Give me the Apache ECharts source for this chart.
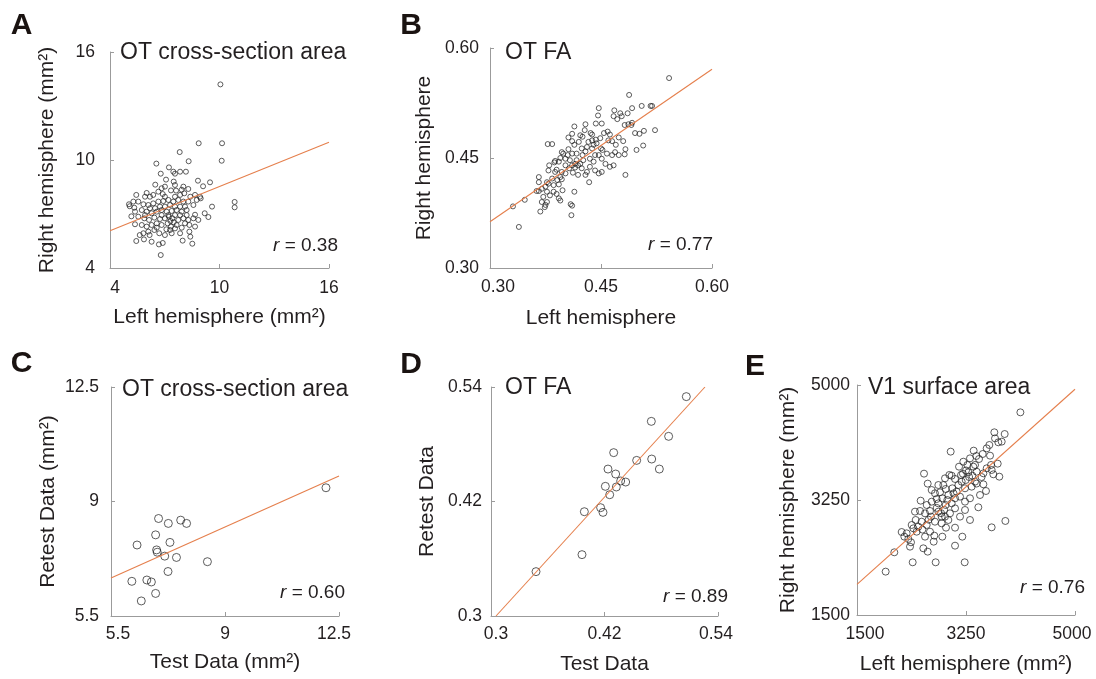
<!DOCTYPE html>
<html><head><meta charset="utf-8">
<script src="https://cdn.jsdelivr.net/npm/echarts@6.0.0/dist/echarts.min.js"></script>
<style>html,body{margin:0;padding:0;background:#fff}#c{width:1096px;height:679px}</style>
</head><body><div id="c"></div>
<script>
// ---------- DATA ----------
// A: OT cross-section area, left vs right hemisphere (mm²)
const otAreaLR = [
[10.05,14.20],[8.86,10.93],[10.14,10.93],[10.12,9.96],[7.82,10.44],[8.31,9.93],[6.54,9.80],[7.23,9.59],[7.47,9.35],[7.56,9.24],[6.78,9.24],[7.84,9.35],[8.16,9.35],[7.07,8.91],[7.49,8.80],[8.82,8.85],[9.48,8.76],[6.48,8.63],[9.10,8.54],[6.01,8.17],[5.44,8.06],[6.65,8.24],[6.89,8.11],[7.01,7.96],[7.34,8.31],[7.62,8.30],[7.93,8.35],[8.29,8.39],[8.07,8.15],[8.97,7.87],[8.75,7.78],[10.83,7.67],[10.83,7.37],[9.59,7.41],[9.39,6.83],[9.19,7.04],[8.66,6.96],[5.04,7.54],[5.08,7.43],[5.33,7.35],[5.17,6.87],[5.37,6.43],[5.63,5.83],[5.44,5.50],[5.86,5.59],[6.17,5.83],[6.28,5.46],[6.68,5.31],[6.89,5.39],[6.78,4.72],[7.98,5.52],[8.51,5.35],[8.35,6.02],[8.35,6.39],[7.56,6.20],[7.09,6.15],
[5.55,7.69],[5.83,7.54],[6.10,7.50],[6.37,7.59],[6.65,7.69],[6.92,7.72],[7.20,7.78],[7.47,7.69],[7.74,7.78],[8.02,7.69],[8.29,7.69],[8.57,7.50],[5.74,7.22],[6.01,7.13],[6.28,7.04],[6.56,7.13],[6.83,7.22],[7.11,7.13],[7.38,7.17],[7.65,7.22],[7.93,7.13],[8.20,7.22],[5.55,6.85],[5.88,6.76],[6.14,6.67],[6.43,6.80],[6.74,6.72],[7.01,6.76],[7.23,6.85],[7.42,6.76],[7.31,6.61],[7.16,6.48],[7.49,6.54],[7.74,6.67],[8.02,6.76],[8.29,6.67],[8.57,6.76],[8.84,6.67],[5.74,6.39],[6.01,6.30],[6.28,6.39],[6.56,6.24],[6.83,6.39],[7.34,6.30],[7.93,6.24],[8.11,6.48],[6.10,6.02],[6.43,6.11],[6.70,5.93],[7.01,5.83],[7.38,5.93],[7.84,5.93],[8.40,5.74],[5.92,7.96],[6.19,7.96],[6.37,8.06],[7.56,7.96],[7.84,8.06],[8.40,7.96],[8.66,8.06],[8.93,7.96],[7.56,8.61],[8.02,8.52],[7.01,8.52],[6.83,8.43],[5.37,7.13],[5.28,7.69],[7.29,7.50],[7.01,7.41],[7.56,7.41],[7.84,7.41],[8.11,7.41],[6.47,7.32],[6.74,7.41],[6.19,7.32],[5.92,6.94],[7.20,6.94],[7.56,6.94],[7.84,6.94],[8.20,6.94],[6.83,6.94],[6.56,6.48],[7.65,6.39],[8.66,6.30],[7.29,6.11],[5.83,5.93]
];
// B: OT FA, left vs right hemisphere
const otFaLR = [
[0.542,0.559],[0.488,0.536],[0.505,0.521],[0.517,0.521],[0.519,0.521],[0.492,0.518],[0.468,0.515],[0.447,0.518],[0.446,0.508],[0.476,0.511],[0.486,0.511],[0.478,0.507],[0.472,0.503],[0.467,0.507],[0.482,0.495],[0.487,0.496],[0.492,0.498],[0.491,0.495],[0.508,0.487],[0.523,0.488],[0.496,0.484],[0.502,0.483],[0.507,0.467],[0.498,0.461],[0.483,0.462],[0.482,0.455],[0.483,0.427],[0.470,0.468],[0.465,0.473],[0.474,0.478],[0.480,0.473],[0.459,0.486],[0.462,0.482],[0.454,0.484],[0.451,0.497],[0.443,0.497],[0.436,0.484],[0.438,0.482],[0.429,0.496],[0.414,0.493],[0.428,0.488],[0.422,0.481],[0.425,0.479],[0.411,0.483],[0.406,0.478],[0.411,0.473],[0.414,0.468],[0.406,0.462],[0.411,0.456],[0.417,0.456],[0.424,0.463],[0.431,0.465],[0.429,0.459],[0.438,0.463],[0.440,0.468],[0.443,0.475],[0.444,0.470],[0.450,0.463],[0.452,0.461],[0.447,0.454],[0.442,0.454],[0.435,0.449],[0.440,0.445],[0.451,0.449],[0.458,0.456],[0.465,0.454],[0.469,0.458],[0.474,0.454],[0.467,0.440],[0.462,0.438],[0.456,0.442],[0.451,0.431],[0.447,0.429],[0.442,0.433],[0.435,0.438],[0.431,0.431],[0.434,0.417],[0.429,0.427],[0.424,0.436],[0.419,0.440],[0.415,0.442],[0.408,0.447],[0.405,0.454],[0.402,0.449],[0.399,0.456],[0.395,0.450],[0.393,0.445],[0.388,0.446],[0.387,0.444],[0.380,0.440],[0.379,0.433],[0.388,0.431],[0.390,0.434],[0.397,0.431],[0.395,0.424],[0.384,0.422],[0.391,0.420],[0.397,0.421],[0.402,0.429],[0.407,0.436],[0.412,0.430],[0.415,0.437],[0.419,0.427],[0.414,0.404],[0.409,0.387],[0.411,0.385],[0.410,0.372],[0.398,0.406],[0.393,0.414],[0.386,0.413],[0.379,0.415],[0.377,0.417],[0.378,0.469],[0.384,0.469],[0.366,0.424],[0.366,0.417],[0.363,0.405],[0.366,0.405],[0.370,0.408],[0.375,0.411],[0.377,0.404],[0.372,0.397],[0.370,0.390],[0.377,0.390],[0.375,0.386],[0.374,0.383],[0.368,0.377],[0.381,0.399],[0.386,0.404],[0.393,0.395],[0.395,0.392],[0.390,0.401],[0.347,0.393],[0.331,0.384],[0.339,0.356],[0.402,0.440],[0.411,0.440],[0.425,0.454],[0.426,0.447],[0.417,0.447],[0.422,0.442],[0.433,0.472],[0.438,0.474],[0.449,0.477],[0.460,0.474],[0.420,0.472],[0.397,0.458]
];
// C: OT cross-section area, test vs retest (mm²)
const otAreaTR = [
[12.10,9.42],[6.96,8.48],[7.26,8.33],[7.64,8.43],[7.82,8.33],[6.87,7.98],[6.30,7.67],[7.31,7.75],[6.90,7.52],[6.92,7.45],[7.15,7.33],[7.51,7.29],[8.46,7.16],[7.25,6.86],[6.14,6.56],[6.60,6.60],[6.74,6.54],[6.87,6.19],[6.43,5.96]
];
// D: OT FA, test vs retest
const otFaTR = [
[0.5065,0.5299],[0.4695,0.5040],[0.4878,0.4883],[0.4297,0.4712],[0.4540,0.4631],[0.4699,0.4645],[0.4780,0.4540],[0.4237,0.4540],[0.4318,0.4488],[0.4371,0.4415],[0.4424,0.4404],[0.4209,0.4359],[0.4325,0.4352],[0.4255,0.4271],[0.4159,0.4135],[0.4184,0.4086],[0.3987,0.4093],[0.3962,0.3643],[0.3476,0.3465]
];
// E: V1 surface area, left vs right hemisphere (mm²)
const v1AreaLR = [
[4123,4584],[3705,4280],[3871,4254],[3769,4128],[3625,4087],[3004,3986],[3373,4001],[3518,3950],[3416,3920],[3636,3925],[3459,3874],[3759,3803],[3652,3783],[3662,3707],[3785,3605],[3138,3757],[3272,3783],[3368,3757],[3288,3671],[3170,3631],[3020,3620],[3074,3570],[3245,3554],[3352,3620],[3395,3529],[3529,3489],[2576,3651],[2635,3499],[3341,3453],[3234,3428],[3127,3478],[3031,3428],[2924,3418],[2833,3367],[2752,3352],[2870,3276],[2779,3265],[2699,3225],[2522,3240],[2619,3174],[2806,3199],[2924,3174],[3020,3199],[3074,3276],[3154,3301],[3234,3225],[3314,3276],[3475,3326],[3571,3387],[3234,3098],[3448,3139],[3314,2946],[3662,2834],[3882,2931],[3074,3123],[2993,3047],[2913,2997],[2967,2946],[2859,2895],[2752,2920],[2688,2997],[2592,3047],[2512,3083],[2431,3073],[2442,2946],[2538,2920],[2619,2870],[2485,2844],[2405,2819],[2458,2768],[2217,2763],[2260,2692],[2324,2657],[2367,2606],[2351,2540],[2565,2515],[2635,2464],[2731,2616],[2742,2707],[2870,2692],[3074,2555],[3191,2692],[2929,2829],[3074,2829],[2099,2454],[1960,2160],[2394,2302],[2763,2302],[3229,2302],[2806,3073],[2859,2997],[3154,2997],[2672,2768],[2592,2692],[2806,3478],[2913,3580],[2699,3402],[2886,3478],[2983,3631],[3207,3833],[3314,3884],[3582,3732],[3689,3641],[3529,3656],[3421,3681],[3181,3529],[3100,3377],[2967,3326],[2672,3083],[2378,2870],[2297,2743],[3395,3783],[3582,4036],[3716,4188],[3823,4138],
[3250,3700],[3300,3600],[3200,3650],[2850,3050],[2900,3100],[2780,3130],[2950,3250],[3050,3350],[2650,2950],[2550,2800],[3420,3500],[3500,3600]
];
// fitted regression lines (endpoints)
const fitA = [[4,6.07],[16,10.98]];
const fitB = [[0.30,0.363],[0.60,0.571]];
const fitC = [[5.5,6.66],[12.5,9.78]];
const fitD = [[0.3053,0.30],[0.5262,0.54]];
const fitE = [[1500,1967],[5000,4935]];
// correlation coefficients
const rValues = ['0.38','0.77','0.60','0.89','0.76'];
// tick labels
const ticksA = [4,10,16];
const ticksB = [0.30,0.45,0.60];
const ticksC = [5.5,9,12.5];
const ticksD = [0.3,0.42,0.54];
const ticksE = [1500,3250,5000];
// texts
const letters = ['A','B','C','D','E'];
const titles = ['OT cross-section area','OT FA','OT cross-section area','OT FA','V1 surface area'];
const xNames = ['Left hemisphere (mm²)','Left hemisphere','Test Data (mm²)','Test Data','Left hemisphere (mm²)'];
const yNames = ['Right hemisphere (mm²)','Right hemisphere','Retest Data (mm²)','Retest Data','Right hemisphere (mm²)'];

// ---------- LAYOUT ----------
const FONT = '"Liberation Sans", Arial, Helvetica, sans-serif';
const INK = '#231f20';
const AXIS = '#9b9b9b';
const FIT = '#e57f4c';
const TICKFONT = 17.5;

const panels = [
 {data:otAreaLR, fit:fitA, ticks:ticksA, fmt:v=>String(v), grid:{left:110,top:52,width:219,height:216}, sym:5,
  xGap:39, yGap:52, xMargin:11, yMargin:15, firstPad:10, lastPad:0, letter:[21.5,26], title:[120,53], r:[338,246]},
 {data:otFaLR, fit:fitB, ticks:ticksB, fmt:v=>v.toFixed(2), grid:{left:490,top:48,width:222,height:220}, sym:5,
  xGap:40, yGap:55, xMargin:10, yMargin:11, firstPad:16, lastPad:0, letter:[411,26], title:[505,53], r:[713,245]},
 {data:otAreaTR, fit:fitC, ticks:ticksC, fmt:v=>String(v), grid:{left:111,top:387,width:228,height:229}, sym:8,
  xGap:36, yGap:52, xMargin:9, yMargin:12, firstPad:14, lastPad:10, letter:[21.5,364], title:[122,390], r:[345,593]},
 {data:otFaTR, fit:fitD, ticks:ticksD, fmt:v=>String(v), grid:{left:491,top:387,width:227,height:229}, sym:8,
  xGap:38, yGap:53, xMargin:9, yMargin:9, firstPad:10, lastPad:4, letter:[411,365], title:[505,388], r:[728,597]},
 {data:v1AreaLR, fit:fitE, ticks:ticksE, fmt:v=>String(v), grid:{left:857,top:385,width:218,height:230}, sym:7,
  xGap:39, yGap:58, xMargin:10, yMargin:7, firstPad:16, lastPad:6, letter:[755,367], title:[868,388], r:[1085,588]}
];

function axis(i, p, isX) {
  const t = p.ticks;
  const last = t[t.length-1];
  const labelStyle = {color:INK, fontSize:TICKFONT, fontFamily:FONT};
  let formatter = p.fmt;
  if (isX) {
    formatter = function (v) {
      const s = p.fmt(v);
      if (v === t[0] && p.firstPad) return '{f|' + s + '}';
      if (v === last && p.lastPad) return '{l|' + s + '}';
      return s;
    };
  }
  return {
    gridIndex:i, type:'value', min:t[0], max:last,
    axisLine:{show:true, lineStyle:{color:AXIS, width:1}},
    axisTick:{show:true, inside:true, length:4, customValues:t, lineStyle:{color:AXIS, width:1}},
    axisLabel:Object.assign({show:true, customValues:t, formatter:formatter, margin:isX?p.xMargin:p.yMargin,
      showMinLabel:true, showMaxLabel:true,
      rich:{f:Object.assign({padding:[0,0,0,p.firstPad]}, labelStyle), l:Object.assign({padding:[0,p.lastPad,0,0]}, labelStyle)}}, labelStyle),
    splitLine:{show:false},
    name: isX ? xNames[i] : yNames[i], nameLocation:'middle', nameGap: isX ? p.xGap : p.yGap,
    nameTextStyle:{color:INK, fontSize:21, fontFamily:FONT}
  };
}

const option = {
  animation:false,
  backgroundColor:'#ffffff',
  grid: panels.map(p=>Object.assign({containLabel:false}, p.grid)),
  xAxis: panels.map((p,i)=>axis(i,p,true)),
  yAxis: panels.map((p,i)=>axis(i,p,false)),
  series: [].concat(
    panels.map((p,i)=>({type:'scatter', xAxisIndex:i, yAxisIndex:i, data:p.data, symbol:'circle', symbolSize:p.sym,
      itemStyle:{color:'rgba(255,255,255,0)', borderColor:'#1f1f1f', borderWidth:0.9}, silent:true, z:2})),
    panels.map((p,i)=>({type:'line', xAxisIndex:i, yAxisIndex:i, data:p.fit, showSymbol:false, symbol:'none',
      lineStyle:{color:FIT, width:1.1}, silent:true, z:3}))
  ),
  graphic: [].concat(
    panels.map((p,i)=>({type:'text', x:p.letter[0], y:p.letter[1], style:{text:letters[i], fill:'#1a1311',
      font:'bold 30px '+FONT, textAlign:'center', textVerticalAlign:'middle'}})),
    panels.map((p,i)=>({type:'text', x:p.title[0], y:p.title[1], style:{text:titles[i], fill:INK,
      font:'23px '+FONT, textAlign:'left', textVerticalAlign:'middle'}})),
    panels.map((p,i)=>({type:'text', x:p.r[0], y:p.r[1], style:{text:'{i|r} = '+rValues[i], fill:INK,
      font:'19px '+FONT, textAlign:'right', textVerticalAlign:'middle',
      rich:{i:{fontStyle:'italic', fontSize:19, fontFamily:FONT, fill:INK}}}}))
  )
};

const chart = echarts.init(document.getElementById('c'), null, {renderer:'canvas', width:1096, height:679});
chart.setOption(option);
</script></body></html>
